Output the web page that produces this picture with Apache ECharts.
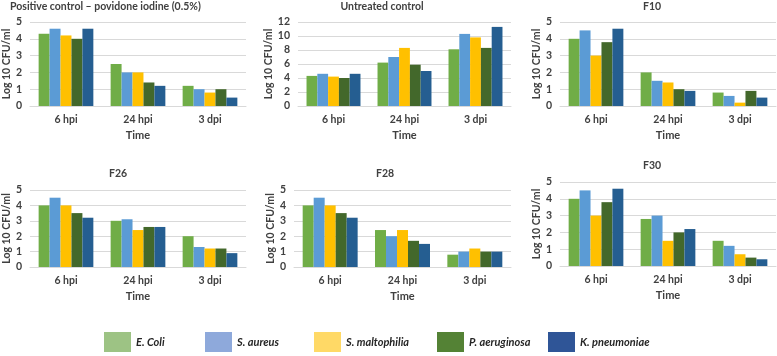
<!DOCTYPE html>
<html>
<head>
<meta charset="utf-8">
<script src="https://cdn.jsdelivr.net/npm/echarts@6/dist/echarts.min.js"></script>
<style>
html, body { margin: 0; padding: 0; background: #fff; }
#main { width: 777px; height: 356px; }
</style>
</head>
<body>
<div id="main"></div>
<script>
// categories and species
var categories = ['6 hpi', '24 hpi', '3 dpi'];
var species = ['E. Coli', 'S. aureus', 'S. maltophilia', 'P. aeruginosa', 'K. pneumoniae'];
var barColors = ['#70AD47', '#5B9BD5', '#FFC000', '#43682B', '#255E91'];
var legendColors = ['#9DC384', '#8EA9DB', '#FFD966', '#548235', '#2F5597'];

// values per species (6 hpi, 24 hpi, 3 dpi)
var positiveControl = [[4.3, 2.5, 1.2], [4.6, 2.0, 1.0], [4.2, 2.0, 0.8], [4.0, 1.4, 1.0], [4.6, 1.2, 0.5]];
var untreatedControl = [[4.3, 6.2, 8.1], [4.6, 7.0, 10.3], [4.2, 8.3, 9.8], [4.0, 5.9, 8.3], [4.6, 5.0, 11.3]];
var f10 = [[4.0, 2.0, 0.8], [4.5, 1.5, 0.6], [3.0, 1.4, 0.2], [3.8, 1.0, 0.9], [4.6, 0.9, 0.5]];
var f26 = [[4.0, 3.0, 2.0], [4.5, 3.1, 1.3], [4.0, 2.4, 1.2], [3.5, 2.6, 1.2], [3.2, 2.6, 0.9]];
var f28 = [[4.0, 2.4, 0.8], [4.5, 2.0, 1.0], [4.0, 2.4, 1.2], [3.5, 1.7, 1.0], [3.2, 1.5, 1.0]];
var f30 = [[4.0, 2.8, 1.5], [4.5, 3.0, 1.2], [3.0, 1.5, 0.7], [3.8, 2.0, 0.5], [4.6, 2.2, 0.4]];

var panelTitles = ['Positive control \u2013 povidone iodine (0.5%)', 'Untreated control', 'F10', 'F26', 'F28', 'F30'];
var panelData = [positiveControl, untreatedControl, f10, f26, f28, f30];
var panelMax = [5, 12, 5, 5, 5, 5];
var panelInterval = [1, 2, 1, 1, 1, 1];

// layout of the six plots (px)
var boxes = [
    {left: 29, top: 22, width: 217, height: 84, tx: 10, ty: 1, align: 'left'},
    {left: 298, top: 22, width: 213, height: 84, tx: 382, ty: 1, align: 'center'},
    {left: 560, top: 22, width: 216, height: 84, tx: 652, ty: 1, align: 'center'},
    {left: 29, top: 190, width: 217, height: 77, tx: 118, ty: 168, align: 'center'},
    {left: 294, top: 190, width: 217, height: 77, tx: 385, ty: 168, align: 'center'},
    {left: 560, top: 182, width: 216, height: 84, tx: 652, ty: 160, align: 'center'}
];

var font = 'Lato';
var textColor = '#404040';

var option = {
    animation: false,
    backgroundColor: '#fff',
    title: [],
    grid: [],
    xAxis: [],
    yAxis: [],
    legend: [],
    series: []
};

for (var p = 0; p < 6; p++) {
    var b = boxes[p];
    option.title.push({
        text: panelTitles[p],
        left: b.tx,
        top: b.ty,
        padding: 0,
        textAlign: b.align,
        textStyle: {fontFamily: font, fontSize: 10.5, fontWeight: 'bold', color: textColor}
    });
    option.grid.push({left: b.left, top: b.top, width: b.width, height: b.height, containLabel: false});
    option.xAxis.push({
        type: 'category',
        gridIndex: p,
        data: categories,
        name: 'Time',
        nameLocation: 'middle',
        nameGap: 24,
        nameTextStyle: {fontFamily: font, fontSize: 11, fontWeight: 'bold', color: textColor},
        axisLine: {lineStyle: {color: '#D9D9D9'}},
        axisTick: {show: false},
        axisLabel: {fontFamily: font, fontSize: 10.5, fontWeight: 'bold', color: textColor, margin: 8}
    });
    option.yAxis.push({
        type: 'value',
        gridIndex: p,
        min: 0,
        max: panelMax[p],
        interval: panelInterval[p],
        name: 'Log 10 CFU/ml',
        nameLocation: 'middle',
        nameGap: 15,
        nameTextStyle: {fontFamily: font, fontSize: 10.5, fontWeight: 'bold', color: textColor},
        axisLine: {show: false},
        axisTick: {show: false},
        splitLine: {lineStyle: {color: '#D9D9D9'}},
        axisLabel: {fontFamily: font, fontSize: 10.5, fontWeight: 'bold', color: textColor, margin: 8}
    });
    for (var s = 0; s < species.length; s++) {
        option.series.push({
            name: species[s],
            type: 'bar',
            xAxisIndex: p,
            yAxisIndex: p,
            data: panelData[p][s],
            barGap: '0%',
            barCategoryGap: '24%',
            itemStyle: {color: barColors[s]}
        });
    }
}

// legend items, one per species
var legendLeft = [104, 205, 314, 437, 548];
for (var i = 0; i < species.length; i++) {
    option.legend.push({
        left: legendLeft[i],
        top: 332,
        padding: 0,
        icon: 'rect',
        itemWidth: 27,
        itemHeight: 20,
        itemGap: 8,
        selectedMode: false,
        data: [{name: species[i], itemStyle: {color: legendColors[i]}}],
        textStyle: {fontFamily: font, fontSize: 11, fontStyle: 'italic', fontWeight: 'bold', color: '#262626'}
    });
}

var chart = echarts.init(document.getElementById('main'), null, {renderer: 'canvas'});
chart.setOption(option);
</script>
</body>
</html>
